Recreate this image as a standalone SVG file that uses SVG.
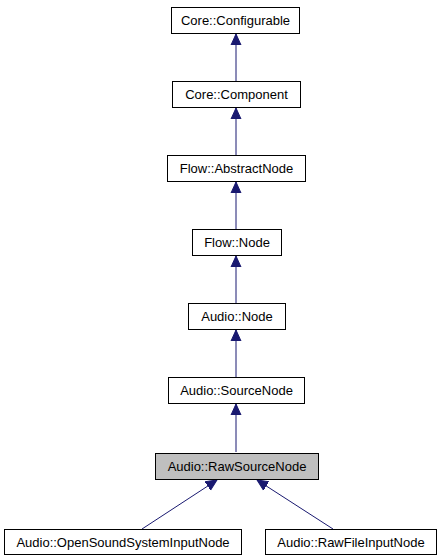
<svg xmlns="http://www.w3.org/2000/svg" width="442" height="560" viewBox="0 0 442 560">
<defs>
<style>
.box{fill:#ffffff;stroke:#000000;stroke-width:1}
.cur{fill:#bfbfbf;stroke:#000000;stroke-width:1}
text{font-family:"Liberation Sans",Arial,Helvetica,sans-serif;font-size:13px;fill:#000000;text-anchor:middle}
.edge{stroke:#191970;stroke-width:1;fill:none;marker-end:url(#ah)}
</style>
<marker id="ah" markerUnits="userSpaceOnUse" markerWidth="12" markerHeight="12" viewBox="0 0 12 12" refX="11" refY="6" orient="auto">
<path d="M0,1 L11,6 L0,11 z" fill="#191970" stroke="#191970" stroke-width="1"/>
</marker>
</defs>
<rect width="442" height="560" fill="#ffffff"/>
<g id="edges">
<line class="edge" x1="236" y1="81" x2="236" y2="34"/>
<line class="edge" x1="236" y1="155" x2="236" y2="108"/>
<line class="edge" x1="236" y1="229" x2="236" y2="182"/>
<line class="edge" x1="236" y1="303" x2="236" y2="256"/>
<line class="edge" x1="236" y1="377" x2="236" y2="330"/>
<line class="edge" x1="236" y1="452" x2="236" y2="404"/>
<line class="edge" x1="142" y1="529" x2="217" y2="480"/>
<line class="edge" x1="333" y1="529" x2="257" y2="480"/>
</g>
<g id="node_configurable">
<rect class="box" x="171.5" y="7.5" width="128" height="26"/>
<text x="235.5" y="25">Core::Configurable</text>
</g>
<g id="node_component">
<rect class="box" x="172.5" y="81.5" width="128" height="26"/>
<text x="236.5" y="99">Core::Component</text>
</g>
<g id="node_abstractnode">
<rect class="box" x="167.5" y="155.5" width="138" height="26"/>
<text x="236.5" y="173">Flow::AbstractNode</text>
</g>
<g id="node_flownode">
<rect class="box" x="192.5" y="229.5" width="89" height="26"/>
<text x="237" y="247">Flow::Node</text>
</g>
<g id="node_audionode">
<rect class="box" x="188.5" y="303.5" width="97" height="26"/>
<text x="237" y="321">Audio::Node</text>
</g>
<g id="node_sourcenode">
<rect class="box" x="168.5" y="377.5" width="136" height="26"/>
<text x="236.5" y="395">Audio::SourceNode</text>
</g>
<g id="node_rawsourcenode">
<rect class="cur" x="155.5" y="453.5" width="163" height="26"/>
<text x="237" y="471">Audio::RawSourceNode</text>
</g>
<g id="node_oss">
<rect class="box" x="4.5" y="529.5" width="237" height="25"/>
<text x="123" y="547">Audio::OpenSoundSystemInputNode</text>
</g>
<g id="node_rawfile">
<rect class="box" x="265.5" y="529.5" width="171" height="25"/>
<text x="351" y="547">Audio::RawFileInputNode</text>
</g>
</svg>
